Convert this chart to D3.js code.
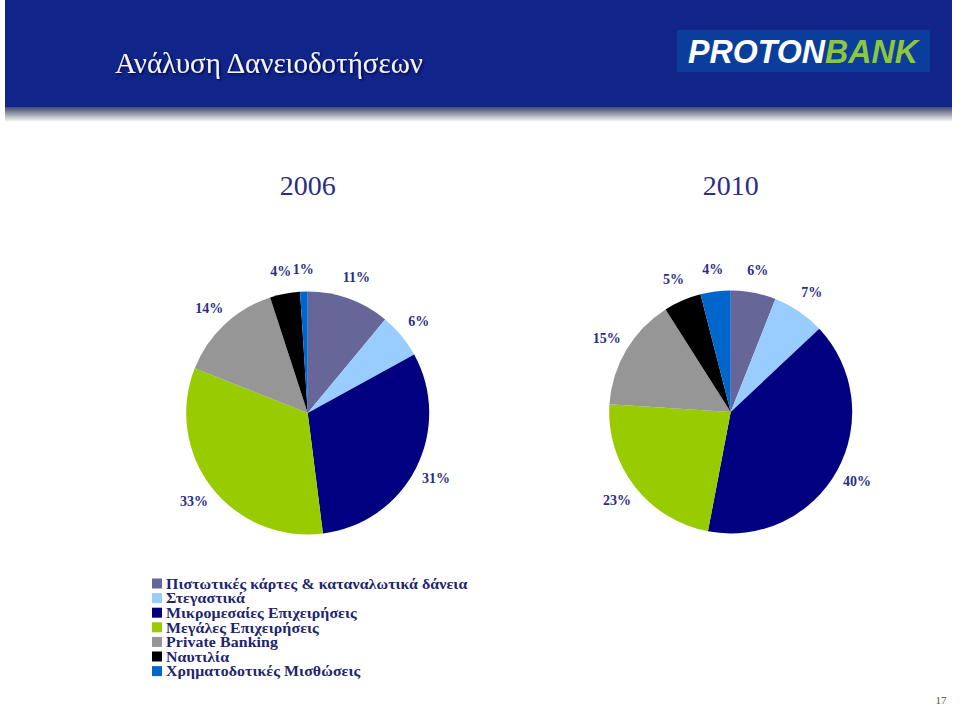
<!DOCTYPE html>
<html>
<head>
<meta charset="utf-8">
<script src="https://cdn.jsdelivr.net/npm/d3@7"></script>
<style>
  html, body { margin: 0; padding: 0; background: #ffffff; }
  svg { display: block; }
</style>
</head>
<body>
<svg id="chart" width="960" height="706"></svg>
<script>
// ---------- DATA ----------
const categories = [
  "Πιστωτικές κάρτες & καταναλωτικά δάνεια",
  "Στεγαστικά",
  "Μικρομεσαίες Επιχειρήσεις",
  "Μεγάλες Επιχειρήσεις",
  "Private Banking",
  "Ναυτιλία",
  "Χρηματοδοτικές Μισθώσεις"
];
const years = ["2006", "2010"];
const values2006 = [11, 6, 31, 33, 14, 4, 1];
const values2010 = [6, 7, 40, 23, 15, 5, 4];
const colors = ["#666699", "#99ccff", "#000080", "#99cc00", "#969696", "#000000", "#0066cc"];
const pageTitle = "Ανάλυση Δανειοδοτήσεων";
const pageNumber = "17";

// ---------- DRAW ----------
const svg = d3.select("#chart");
const serif = "'Book Antiqua', 'Palatino Linotype', Palatino, 'Liberation Serif', 'DejaVu Serif', serif";
const textColor = "#2b2e84";
const legendColor = "#22246e";

const defs = svg.append("defs");
const shadowGrad = defs.append("linearGradient").attr("id", "hdrShadow")
  .attr("x1", 0).attr("y1", 0).attr("x2", 0).attr("y2", 1);
shadowGrad.append("stop").attr("offset", "0%").attr("stop-color", "#1a2670");
shadowGrad.append("stop").attr("offset", "35%").attr("stop-color", "#6b7088");
shadowGrad.append("stop").attr("offset", "100%").attr("stop-color", "#ffffff");

const tf = defs.append("filter").attr("id", "txtShadow").attr("x", "-5%").attr("y", "-20%").attr("width", "110%").attr("height", "150%");
tf.append("feDropShadow").attr("dx", 1.5).attr("dy", 1.5).attr("stdDeviation", 0.8)
  .attr("flood-color", "#000033").attr("flood-opacity", 0.8);

// Header band
svg.append("rect").attr("x", 5).attr("y", 104).attr("width", 947).attr("height", 18)
  .attr("fill", "url(#hdrShadow)");
svg.append("rect").attr("x", 5).attr("y", 0).attr("width", 947).attr("height", 107)
  .attr("fill", "#10248a");

svg.append("text")
  .attr("x", 115).attr("y", 73)
  .attr("font-family", serif).attr("font-size", 29)
  .attr("fill", "#f4f4fa")
  .attr("filter", "url(#txtShadow)")
  .text(pageTitle);

// Logo
const logo = svg.append("g");
logo.append("rect").attr("x", 677).attr("y", 30).attr("width", 253).attr("height", 42).attr("fill", "#0b3d9c");
const logoText = logo.append("text")
  .attr("x", 803).attr("y", 63).attr("text-anchor", "middle")
  .attr("font-family", "'Liberation Sans', Arial, sans-serif")
  .attr("font-weight", "bold").attr("font-style", "italic").attr("font-size", 33)
  .attr("textLength", 230).attr("lengthAdjust", "spacingAndGlyphs");
logoText.append("tspan").attr("fill", "#ffffff").text("PROTON");
logoText.append("tspan").attr("fill", "#8dc63f").text("BANK");

// Pies
const radius = 121.5;
const labelRadius = 144;
const centers = [{ x: 307.7, y: 413 }, { x: 730.7, y: 412 }];
const series = [values2006, values2010];

const pie = d3.pie().sort(null).value(d => d);
const arc = d3.arc().innerRadius(0).outerRadius(radius);
const labelArc = d3.arc().innerRadius(labelRadius).outerRadius(labelRadius);

series.forEach((vals, i) => {
  const c = centers[i];
  const g = svg.append("g").attr("transform", `translate(${c.x},${c.y})`);
  const arcs = pie(vals);
  g.selectAll("path.slice").data(arcs).enter().append("path")
    .attr("class", "slice")
    .attr("d", arc)
    .attr("fill", (d, k) => colors[k]);
  g.selectAll("text.lbl").data(arcs).enter().append("text")
    .attr("class", "lbl")
    .attr("transform", d => `translate(${labelArc.centroid(d)})`)
    .attr("text-anchor", "middle")
    .attr("dominant-baseline", "central")
    .attr("font-family", serif).attr("font-size", 14).attr("font-weight", "bold")
    .attr("fill", textColor)
    .text(d => d.data + "%");

  svg.append("text")
    .attr("x", c.x).attr("y", 195)
    .attr("text-anchor", "middle")
    .attr("font-family", serif).attr("font-size", 28)
    .attr("fill", textColor)
    .text(years[i]);
});

// Legend
const legend = svg.append("g").attr("transform", "translate(152,583.5)");
const rowH = 14.6;
categories.forEach((name, k) => {
  const row = legend.append("g").attr("transform", `translate(0,${k * rowH})`);
  row.append("rect").attr("x", 0).attr("y", -5).attr("width", 10).attr("height", 10).attr("fill", colors[k]);
  row.append("text")
    .attr("transform", "translate(14,0.5) scale(1.1,1)")
    .attr("dominant-baseline", "central")
    .attr("font-family", serif).attr("font-size", 14.4).attr("font-weight", "bold")
    .attr("letter-spacing", 0.1)
    .attr("fill", legendColor)
    .text(name);
});

// Page number
svg.append("text")
  .attr("x", 941).attr("y", 704)
  .attr("text-anchor", "middle")
  .attr("font-family", "'Liberation Serif', serif").attr("font-size", 11)
  .attr("fill", "#555555")
  .text(pageNumber);
</script>
</body>
</html>
